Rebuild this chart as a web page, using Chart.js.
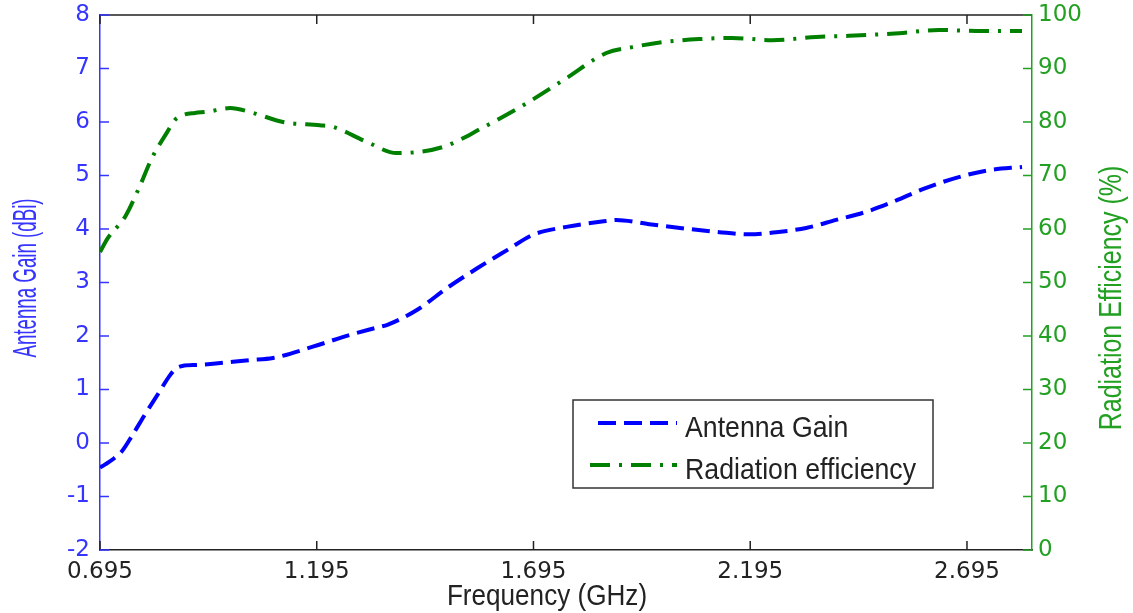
<!DOCTYPE html>
<html>
<head>
<meta charset="utf-8">
<script src="https://cdn.jsdelivr.net/npm/chart.js@4/dist/chart.umd.min.js"></script>
<style>
  html, body { margin: 0; padding: 0; background: #fff; }
  #box { width: 1133px; height: 613px; }
</style>
</head>
<body>
<div id="box"><canvas id="lineChart"></canvas></div>
<script>
/* datos */
var freqGain = [0.695, 0.707, 0.727, 0.746, 0.770, 0.800, 0.830, 0.855, 0.870, 0.885, 0.921, 1.041, 1.094, 1.186, 1.271, 1.340,
                1.358, 1.427, 1.496, 1.566, 1.635, 1.693, 1.771, 1.863, 1.886, 1.962, 2.054, 2.124, 2.193, 2.255, 2.324, 2.393,
                2.462, 2.522, 2.601, 2.676, 2.746, 2.822];
var gain = [-0.46, -0.40, -0.29, -0.15, 0.15, 0.55, 0.93, 1.25, 1.39, 1.44, 1.46, 1.55, 1.59, 1.80, 2.02, 2.17,
            2.21, 2.49, 2.90, 3.27, 3.61, 3.89, 4.04, 4.15, 4.17, 4.09, 4.00, 3.94, 3.90, 3.94, 4.02, 4.17,
            4.32, 4.50, 4.77, 4.97, 5.10, 5.16];

var freqEff = [0.695, 0.713, 0.753, 0.783, 0.815, 0.850, 0.868, 0.886, 0.914, 0.942, 0.995, 1.048, 1.117, 1.202, 1.232, 1.310, 1.379,
               1.485, 1.577, 1.679, 1.771, 1.863, 1.923, 2.001, 2.077, 2.153, 2.246, 2.347, 2.423, 2.538, 2.630, 2.730, 2.822];
var efficiency = [55.7, 58.3, 62.3, 67.3, 73.3, 78.1, 80.4, 81.3, 81.7, 81.9, 82.6, 81.7, 80.0, 79.4, 79.1, 76.3, 74.2,
                  75.3, 78.9, 83.5, 88.2, 92.9, 94.0, 95.0, 95.5, 95.7, 95.3, 95.9, 96.1, 96.6, 97.2, 97.0, 97.0];

var xTicks = [0.695, 1.195, 1.695, 2.195, 2.695];
var xMin = 0.695, xMax = 2.845;
var gainMin = -2, gainMax = 8;
var effMin = 0, effMax = 100;

var labelGain = "Antenna Gain";
var labelEff = "Radiation efficiency";
var titleX = "Frequency (GHz)";
var titleY1 = "Antenna Gain (dBi)";
var titleY2 = "Radiation Efficiency (%)";

var blue = '#0000ff';
var green = '#007f00';
var blueAxis = '#3535ff';
var greenAxis = '#22a022';

function pares(xs, ys) {
    var out = [];
    for (var i in xs) {
        out.push({x: xs[i], y: ys[i]});
    }
    return out;
}

/* texto estrecho como el de matlab */
function textoEstrecho(ctx, text, x, y, size, sx, rot, color, align) {
    ctx.save();
    ctx.translate(x, y);
    ctx.rotate(rot);
    ctx.scale(sx, 1);
    ctx.font = size + 'px "Liberation Sans", Arial, sans-serif';
    ctx.fillStyle = color;
    ctx.textAlign = align || 'center';
    ctx.textBaseline = 'alphabetic';
    ctx.fillText(text, 0, 0);
    ctx.restore();
}

/* marcas hacia adentro, borde superior, titulos y leyenda */
var marcoPlugin = {
    id: 'marco',
    afterDraw: function (chart) {
        var ctx = chart.ctx;
        var a = chart.chartArea;
        var sx = chart.scales.x, y1 = chart.scales.y, y2 = chart.scales.y2;
        var len = 9;
        ctx.save();
        ctx.lineWidth = 1.5;

        ctx.strokeStyle = '#222';
        ctx.beginPath();
        ctx.moveTo(a.left, a.top);
        ctx.lineTo(a.right, a.top);
        sx.ticks.forEach(function (t) {
            var px = sx.getPixelForValue(t.value);
            ctx.moveTo(px, a.bottom);
            ctx.lineTo(px, a.bottom - len);
            ctx.moveTo(px, a.top);
            ctx.lineTo(px, a.top + len);
        });
        ctx.stroke();

        ctx.strokeStyle = blueAxis;
        ctx.beginPath();
        y1.ticks.forEach(function (t) {
            var py = y1.getPixelForValue(t.value);
            ctx.moveTo(a.left, py);
            ctx.lineTo(a.left + len, py);
        });
        ctx.stroke();

        ctx.strokeStyle = greenAxis;
        ctx.beginPath();
        y2.ticks.forEach(function (t) {
            var py = y2.getPixelForValue(t.value);
            ctx.moveTo(a.right, py);
            ctx.lineTo(a.right - len, py);
        });
        ctx.stroke();
        ctx.restore();

        // titulos de ejes
        textoEstrecho(ctx, titleX, a.left + 447, a.bottom + 55, 30, 0.87, 0, '#222');
        textoEstrecho(ctx, titleY1, 36, 278, 34, 0.55, -Math.PI / 2, blueAxis);
        textoEstrecho(ctx, titleY2, a.right + 89, 298, 32, 0.78, -Math.PI / 2, greenAxis);

        // leyenda
        var lx = 573, ly = 400, lw = 360, lh = 88;
        ctx.save();
        ctx.fillStyle = '#fff';
        ctx.fillRect(lx, ly, lw, lh);
        ctx.strokeStyle = '#333';
        ctx.lineWidth = 1.5;
        ctx.strokeRect(lx, ly, lw, lh);
        var ds = chart.data.datasets;
        var rows = [ly + 23, ly + 65];
        var starts = [lx + 25, lx + 17];
        for (var i = 0; i < ds.length; i++) {
            ctx.strokeStyle = ds[i].borderColor;
            ctx.lineWidth = ds[i].borderWidth;
            ctx.setLineDash(ds[i].borderDash);
            ctx.beginPath();
            ctx.moveTo(starts[i], rows[i]);
            ctx.lineTo(lx + 104, rows[i]);
            ctx.stroke();
            ctx.setLineDash([]);
            textoEstrecho(ctx, ds[i].label, lx + 112, rows[i] + 14, 30, 0.89, 0, '#222', 'left');
        }
        ctx.restore();
    }
};

var chartdata = {
    datasets: [
        {
            label: labelGain,
            data: pares(freqGain, gain),
            yAxisID: 'y',
            borderColor: blue,
            borderWidth: 4,
            borderDash: [18, 8],
            pointRadius: 0,
            fill: false,
            cubicInterpolationMode: 'monotone'
        },
        {
            label: labelEff,
            data: pares(freqEff, efficiency),
            yAxisID: 'y2',
            borderColor: green,
            borderWidth: 4,
            borderDash: [20, 9, 3, 9],
            pointRadius: 0,
            fill: false,
            cubicInterpolationMode: 'monotone'
        }
    ]
};

var graphTarget = document.getElementById('lineChart');
var tickFont = { family: '"DejaVu Sans"', size: 23 };
// lineHeight chico para que la etiqueta de arriba no empuje el area
var tickFontY = { family: '"DejaVu Sans"', size: 23, lineHeight: 0.4 };

var lineGraph = new Chart(graphTarget, {
    type: 'line',
    data: chartdata,
    plugins: [marcoPlugin],
    options: {
        responsive: true,
        maintainAspectRatio: false,
        animation: false,
        layout: { padding: { top: 15, left: 0, right: 0, bottom: 0 } },
        plugins: {
            legend: { display: false },
            tooltip: { enabled: false }
        },
        scales: {
            x: {
                type: 'linear',
                min: xMin,
                max: xMax,
                afterBuildTicks: function (scale) {
                    scale.ticks = xTicks.map(function (v) { return {value: v}; });
                },
                afterFit: function (scale) { scale.height = 63; },
                grid: { display: false, drawTicks: false },
                border: { display: true, color: '#222', width: 1.5 },
                ticks: {
                    color: '#222',
                    padding: 8,
                    maxRotation: 0,
                    font: tickFont,
                    callback: function (v) { return Number(v).toFixed(3); }
                }
            },
            y: {
                position: 'left',
                min: gainMin,
                max: gainMax,
                afterFit: function (scale) { scale.width = 100; },
                grid: { display: false, drawTicks: false },
                border: { display: true, color: blueAxis, width: 1.5 },
                ticks: {
                    stepSize: 1,
                    color: blueAxis,
                    padding: 10,
                    font: tickFontY
                }
            },
            y2: {
                position: 'right',
                min: effMin,
                max: effMax,
                afterFit: function (scale) { scale.width = 101; },
                grid: { display: false, drawTicks: false },
                border: { display: true, color: greenAxis, width: 1.5 },
                ticks: {
                    stepSize: 10,
                    color: greenAxis,
                    padding: 6,
                    font: tickFontY
                }
            }
        }
    }
});
</script>
</body>
</html>
